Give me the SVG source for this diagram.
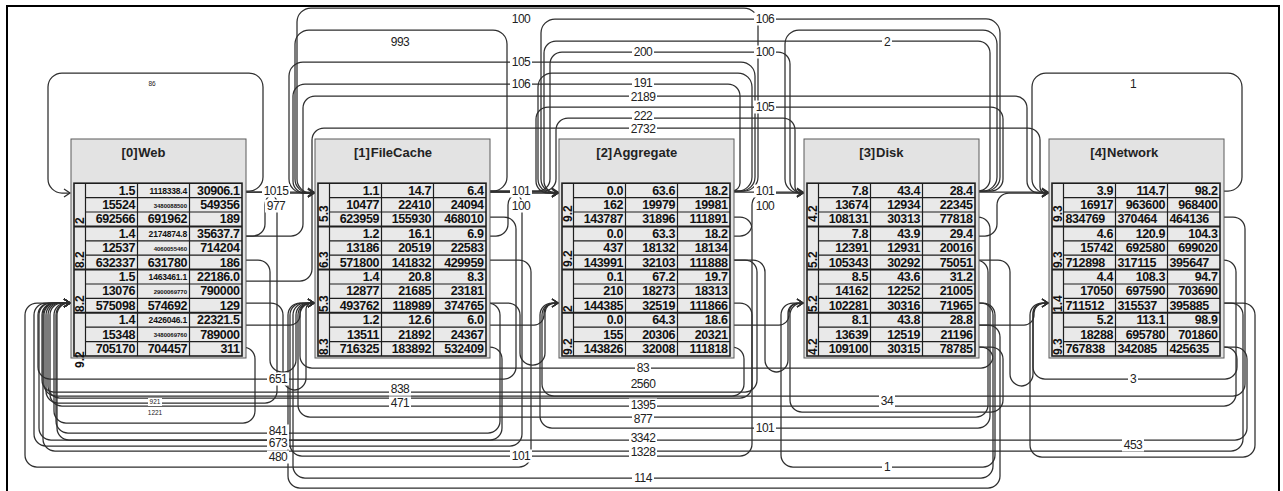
<svg xmlns="http://www.w3.org/2000/svg" xmlns:xlink="http://www.w3.org/1999/xlink" width="1283" height="491" viewBox="0 0 1283 491">
<style>
.e{fill:none;stroke:#2e2e2e;stroke-width:1.25;marker-end:url(#ah)}
.box{fill:#e3e3e3;stroke:#5a5a5a;stroke-width:1}
.tb{fill:#e9e9e9;stroke:#1e1e1e;stroke-width:1.6}
.ln{fill:none;stroke:#1e1e1e;stroke-width:1.2}
.gb{fill:none;stroke:#1e1e1e;stroke-width:2}
text{font-family:"Liberation Sans",Arial,sans-serif}
.ti{font-size:13px;font-weight:bold;fill:#222}
.tr{font-size:13px;font-weight:bold;fill:#222;text-anchor:end}
.v{font-size:12.5px;font-weight:bold;fill:#111;text-anchor:end;letter-spacing:-0.4px}
.vl{font-size:12.5px;font-weight:bold;fill:#111;text-anchor:start;letter-spacing:-0.4px}
.s1{font-size:8.5px;letter-spacing:-0.2px}
.s2{font-size:6px;letter-spacing:0px}
.gl{font-size:12px;font-weight:bold;fill:#111}
.lb{font-size:12px;fill:#222;text-anchor:middle;letter-spacing:-0.5px}
.ls{font-size:6.5px;fill:#222;text-anchor:middle}
.bg{fill:#fff}
</style>
<defs>
<marker id="ah" markerWidth="9" markerHeight="10" refX="7" refY="5" orient="auto" markerUnits="userSpaceOnUse">
<path d="M1,1 L7,5 L1,9" fill="none" stroke="#2e2e2e" stroke-width="1.3"/>
</marker>
<g id="nb">
<rect class="box" x="0" y="139" width="175" height="219"/>
<rect class="tb" x="3" y="183.2" width="168" height="172.8"/>
<path class="ln" d="M14.5 183.2V356M66.5 183.2V356M118.5 183.2V356M14.5 197.6H171M14.5 212H171M14.5 240.8H171M14.5 255.2H171M14.5 284H171M14.5 298.4H171M14.5 327.2H171M14.5 341.6H171"/>
<path class="gb" d="M3 226.4H171M3 269.6H171M3 312.8H171"/>
</g>
</defs>
<rect x="7" y="6" width="1272" height="500" fill="#fff" stroke="#000" stroke-width="2"/>
<g id="connectors">
<path class="e" d="M243 191 H249 a14 14 0 0 0 14 -14 V87 a14 14 0 0 0 -14 -14 H62 a14 14 0 0 0 -14 14 V179 a14 14 0 0 0 14 14 H70"/>
<path class="e" d="M487 191 H493 a14 14 0 0 0 14 -14 V44 a14 14 0 0 0 -14 -14 H309 a14 14 0 0 0 -14 14 V179 a14 14 0 0 0 14 14 H314"/>
<path class="e" d="M731 191 H738 a14 14 0 0 0 14 -14 V87 a14 14 0 0 0 -14 -14 H552 a14 14 0 0 0 -14 14 V179 a14 14 0 0 0 14 14 H558"/>
<path class="e" d="M976 191 H983 a14 14 0 0 0 14 -14 V44 a14 14 0 0 0 -14 -14 H799 a14 14 0 0 0 -14 14 V179 a14 14 0 0 0 14 14 H803"/>
<path class="e" d="M1221 191 H1228 a14 14 0 0 0 14 -14 V87 a14 14 0 0 0 -14 -14 H1046 a14 14 0 0 0 -14 14 V179 a14 14 0 0 0 14 14 H1048"/>
<path class="e" d="M731 191 H744 a14 14 0 0 0 14 -14 V22 a14 14 0 0 0 -14 -14 H311 a14 14 0 0 0 -14 14 V179 a14 14 0 0 0 14 14 H314"/>
<path class="e" d="M976 191 H986 a14 14 0 0 0 14 -14 V33 a14 14 0 0 0 -14 -14 H555 a14 14 0 0 0 -14 14 V179 a14 14 0 0 0 14 14 H558"/>
<path class="e" d="M976 191 H978 a12 12 0 0 0 12 -12 V53 a12 12 0 0 0 -12 -12 H556 a12 12 0 0 0 -12 12 V181 a12 12 0 0 0 12 12 H558"/>
<path class="e" d="M487 191 H538 a12 12 0 0 0 12 -12 V64 a12 12 0 0 1 12 -12 H778 a12 12 0 0 1 12 12 V181 a12 12 0 0 0 12 12 H803"/>
<path class="e" d="M731 191 H741 a14 14 0 0 0 14 -14 V76 a14 14 0 0 0 -14 -14 H303 a14 14 0 0 0 -14 14 V179 a14 14 0 0 0 14 14 H314"/>
<path class="e" d="M731 191 H732 a8 8 0 0 0 8 -8 V96 a12 12 0 0 0 -12 -12 H305 a12 12 0 0 0 -12 12 V181 a12 12 0 0 0 12 12 H314"/>
<path class="e" d="M243 236 H291 a12 12 0 0 0 12 -12 V108 a12 12 0 0 1 12 -12 H1015 a12 12 0 0 1 12 12 V181 a12 12 0 0 0 12 12 H1048"/>
<path class="e" d="M976 191 H991 a12 12 0 0 0 12 -12 V119 a12 12 0 0 0 -12 -12 H548 a12 12 0 0 0 -12 12 V181 a12 12 0 0 0 12 12 H558"/>
<path class="e" d="M487 191 H544 a12 12 0 0 0 12 -12 V130 a12 12 0 0 1 12 -12 H783 a12 12 0 0 1 12 12 V187 a6 6 0 0 0 6 6 H803"/>
<path class="e" d="M243 281 H300 a12 12 0 0 0 12 -12 V140 a12 12 0 0 1 12 -12 H1028 a12 12 0 0 1 12 12 V187 a6 6 0 0 0 6 6 H1048"/>
<path class="e" d="M243 192 H314"/>
<path class="e" d="M487 192 H558"/>
<path class="e" d="M731 192 H803"/>
<path class="e" d="M976 192 H1048"/>
<path class="e" d="M243 236 H253 a12 12 0 0 0 12 -12 V205 a12 12 0 0 1 12 -12 H314"/>
<path class="e" d="M487 236 H496 a12 12 0 0 0 12 -12 V205 a12 12 0 0 1 12 -12 H558"/>
<path class="e" d="M731 236 H740 a12 12 0 0 0 12 -12 V205 a12 12 0 0 1 12 -12 H803"/>
<path class="e" d="M976 236 H985 a12 12 0 0 0 12 -12 V205 a12 12 0 0 1 12 -12 H1048"/>
<path class="e" d="M243 325 H290 a10 10 0 0 0 10 -10 V313 a10 10 0 0 1 10 -10 H314"/>
<path class="e" d="M487 325 H534 a10 10 0 0 0 10 -10 V313 a10 10 0 0 1 10 -10 H558"/>
<path class="e" d="M731 325 H779 a10 10 0 0 0 10 -10 V313 a10 10 0 0 1 10 -10 H803"/>
<path class="e" d="M976 325 H1024 a10 10 0 0 0 10 -10 V313 a10 10 0 0 1 10 -10 H1048"/>
<path class="e" d="M243 260 H258 a12 12 0 0 1 12 12 V360 a12 12 0 0 0 12 12 H284 a12 12 0 0 0 12 -12 V315 a12 12 0 0 1 12 -12 H314"/>
<path class="e" d="M243 303 H271 a12 12 0 0 1 12 12 V378 a12 12 0 0 0 12 12 H294 a12 12 0 0 0 12 -12 V309 a6 6 0 0 1 6 -6 H314"/>
<path class="e" d="M487 303 H508 a12 12 0 0 1 12 12 V353 a12 12 0 0 0 12 12 H533 a12 12 0 0 0 12 -12 V313 a10 10 0 0 1 10 -10 H558"/>
<path class="e" d="M731 260 H753 a12 12 0 0 1 12 12 V360 a12 12 0 0 0 12 12 H776 a12 12 0 0 0 12 -12 V313 a10 10 0 0 1 10 -10 H803"/>
<path class="e" d="M976 260 H998 a12 12 0 0 1 12 12 V374 a12 12 0 0 0 12 12 H1021 a12 12 0 0 0 12 -12 V313 a10 10 0 0 1 10 -10 H1048"/>
<path class="e" d="M487 217 H504 a12 12 0 0 1 12 12 V367 a12 12 0 0 1 -12 12 H50 a12 12 0 0 1 -12 -12 V315 a12 12 0 0 1 12 -12 H70"/>
<path class="e" d="M731 260 H745 a12 12 0 0 1 12 12 V380 a12 12 0 0 1 -12 12 H54 a12 12 0 0 1 -12 -12 V315 a12 12 0 0 1 12 -12 H70"/>
<path class="e" d="M243 192 H265 a12 12 0 0 1 12 12 V391 a12 12 0 0 1 -12 12 H58 a12 12 0 0 1 -12 -12 V315 a12 12 0 0 1 12 -12 H70"/>
<path class="e" d="M731 217 H740 a12 12 0 0 1 12 12 V386 a12 12 0 0 1 -12 12 H60 a12 12 0 0 1 -12 -12 V315 a12 12 0 0 1 12 -12 H70"/>
<path class="e" d="M1221 260 H1224 a12 12 0 0 1 12 12 V394 a12 12 0 0 1 -12 12 H62 a12 12 0 0 1 -12 -12 V315 a12 12 0 0 1 12 -12 H70"/>
<path class="e" d="M243 347 a12 12 0 0 1 12 12 V411 a12 12 0 0 1 -12 12 H66 a12 12 0 0 1 -12 -12 V315 a12 12 0 0 1 12 -12 H70"/>
<path class="e" d="M487 303 H488 a12 12 0 0 1 12 12 V421 a12 12 0 0 1 -12 12 H68 a12 12 0 0 1 -12 -12 V315 a12 12 0 0 1 12 -12 H70"/>
<path class="e" d="M487 347 H490 a12 12 0 0 1 12 12 V428 a12 12 0 0 1 -12 12 H69 a12 12 0 0 1 -12 -12 V315 a12 12 0 0 1 12 -12 H70"/>
<path class="e" d="M1221 347 H1235 a12 12 0 0 1 12 12 V428 a12 12 0 0 1 -12 12 H51 a12 12 0 0 1 -12 -12 V315 a12 12 0 0 1 12 -12 H70"/>
<path class="e" d="M487 192 H510 a12 12 0 0 1 12 12 V434 a12 12 0 0 1 -12 12 H46 a12 12 0 0 1 -12 -12 V315 a12 12 0 0 1 12 -12 H70"/>
<path class="e" d="M1221 303 H1231 a12 12 0 0 1 12 12 V439 a12 12 0 0 1 -12 12 H55 a12 12 0 0 1 -12 -12 V315 a12 12 0 0 1 12 -12 H70"/>
<path class="e" d="M487 260 H519 a12 12 0 0 1 12 12 V455 a12 12 0 0 1 -12 12 H37 a12 12 0 0 1 -12 -12 V315 a12 12 0 0 1 12 -12 H70"/>
<path class="e" d="M1221 217 H1233 a12 12 0 0 1 12 12 V384 a12 12 0 0 1 -12 12 H56 a12 12 0 0 1 -12 -12 V315 a12 12 0 0 1 12 -12 H70"/>
<path class="e" d="M976 303 H981 a12 12 0 0 1 12 12 V356 a12 12 0 0 1 -12 12 H312 a12 12 0 0 1 -12 -12 V315 a12 12 0 0 1 12 -12 H314"/>
<path class="e" d="M731 303 H740 a12 12 0 0 1 12 12 V444 a12 12 0 0 1 -12 12 H302 a12 12 0 0 1 -12 -12 V315 a12 12 0 0 1 12 -12 H314"/>
<path class="e" d="M976 260 a12 12 0 0 1 12 12 V405 a12 12 0 0 1 -12 12 H310 a12 12 0 0 1 -12 -12 V315 a12 12 0 0 1 12 -12 H314"/>
<path class="e" d="M976 347 H981 a12 12 0 0 1 12 12 V466 a12 12 0 0 1 -12 12 H305 a12 12 0 0 1 -12 -12 V315 a12 12 0 0 1 12 -12 H314"/>
<path class="e" d="M976 325 H988 a12 12 0 0 1 12 12 V476 a12 12 0 0 1 -12 12 H300 a12 12 0 0 1 -12 -12 V315 a12 12 0 0 1 12 -12 H314"/>
<path class="e" d="M731 347 H732 a12 12 0 0 1 12 12 V384 a12 12 0 0 1 -12 12 H554 a12 12 0 0 1 -12 -12 V315 a12 12 0 0 1 12 -12 H558"/>
<path class="e" d="M976 217 H978 a12 12 0 0 1 12 12 V416 a12 12 0 0 1 -12 12 H552 a12 12 0 0 1 -12 -12 V315 a12 12 0 0 1 12 -12 H558"/>
<path class="e" d="M976 347 H991 a12 12 0 0 1 12 12 V400 a12 12 0 0 1 -12 12 H802 a12 12 0 0 1 -12 -12 V315 a12 12 0 0 1 12 -12 H803"/>
<path class="e" d="M976 303 H983 a12 12 0 0 1 12 12 V455 a12 12 0 0 1 -12 12 H793 a12 12 0 0 1 -12 -12 V315 a12 12 0 0 1 12 -12 H803"/>
<path class="e" d="M1221 347 H1225 a12 12 0 0 1 12 12 V367 a12 12 0 0 1 -12 12 H1045 a12 12 0 0 1 -12 -12 V315 a12 12 0 0 1 12 -12 H1048"/>
<path class="e" d="M1221 303 H1243 a12 12 0 0 1 12 12 V445 a12 12 0 0 1 -12 12 H1042 a12 12 0 0 1 -12 -12 V315 a12 12 0 0 1 12 -12 H1048"/>
</g>
<g id="edge-labels">
<text class="ls" x="152" y="86.3">86</text>
<rect class="bg" x="510" y="12.5" width="22" height="13"/><text class="lb" x="521" y="23.3">100</text>
<rect class="bg" x="389" y="35.5" width="22" height="13"/><text class="lb" x="400" y="46.3">993</text>
<rect class="bg" x="510" y="55.5" width="22" height="13"/><text class="lb" x="521" y="66.3">105</text>
<rect class="bg" x="510" y="77.5" width="22" height="13"/><text class="lb" x="521" y="88.3">106</text>
<rect class="bg" x="754" y="12.5" width="22" height="13"/><text class="lb" x="765" y="23.3">106</text>
<rect class="bg" x="632" y="45.5" width="22" height="13"/><text class="lb" x="643" y="56.3">200</text>
<rect class="bg" x="754" y="45.5" width="22" height="13"/><text class="lb" x="765" y="56.3">100</text>
<rect class="bg" x="629" y="90.5" width="28" height="13"/><text class="lb" x="643" y="101.3">2189</text>
<rect class="bg" x="632" y="76" width="22" height="13"/><text class="lb" x="643" y="86.8">191</text>
<rect class="bg" x="754" y="100.5" width="22" height="13"/><text class="lb" x="765" y="111.3">105</text>
<rect class="bg" x="632" y="109.5" width="22" height="13"/><text class="lb" x="643" y="120.3">222</text>
<rect class="bg" x="629" y="122.5" width="28" height="13"/><text class="lb" x="643" y="133.3">2732</text>
<rect class="bg" x="882" y="35.5" width="10" height="13"/><text class="lb" x="887" y="46.3">2</text>
<rect class="bg" x="1128" y="77.5" width="10" height="13"/><text class="lb" x="1133" y="88.3">1</text>
<rect class="bg" x="265" y="199.5" width="22" height="13"/><text class="lb" x="276" y="210.3">977</text>
<rect class="bg" x="262" y="184.5" width="28" height="13"/><text class="lb" x="276" y="195.3">1015</text>
<rect class="bg" x="510" y="199.5" width="22" height="13"/><text class="lb" x="521" y="210.3">100</text>
<rect class="bg" x="510" y="184.5" width="22" height="13"/><text class="lb" x="521" y="195.3">101</text>
<rect class="bg" x="754" y="199.5" width="22" height="13"/><text class="lb" x="765" y="210.3">100</text>
<rect class="bg" x="754" y="184.5" width="22" height="13"/><text class="lb" x="765" y="195.3">101</text>
<rect class="bg" x="267" y="372.5" width="22" height="13"/><text class="lb" x="278" y="383.3">651</text>
<rect class="bg" x="148" y="398" width="14" height="8"/><text class="ls" x="155" y="404.3">921</text>
<text class="ls" x="155" y="415.3">1221</text>
<rect class="bg" x="267" y="436.5" width="22" height="13"/><text class="lb" x="278" y="447.3">673</text>
<rect class="bg" x="267" y="424.5" width="22" height="13"/><text class="lb" x="278" y="435.3">841</text>
<rect class="bg" x="267" y="450.5" width="22" height="13"/><text class="lb" x="278" y="461.3">480</text>
<rect class="bg" x="389" y="396.5" width="22" height="13"/><text class="lb" x="400" y="407.3">471</text>
<rect class="bg" x="389" y="382.5" width="22" height="13"/><text class="lb" x="400" y="393.3">838</text>
<rect class="bg" x="510" y="449.5" width="22" height="13"/><text class="lb" x="521" y="460.3">101</text>
<rect class="bg" x="635" y="361.5" width="16" height="13"/><text class="lb" x="643" y="372.3">83</text>
<rect class="bg" x="629" y="377.5" width="28" height="13"/><text class="lb" x="643" y="388.3">2560</text>
<rect class="bg" x="629" y="398.5" width="28" height="13"/><text class="lb" x="643" y="409.3">1395</text>
<rect class="bg" x="632" y="412.5" width="22" height="13"/><text class="lb" x="643" y="423.3">877</text>
<rect class="bg" x="754" y="421.5" width="22" height="13"/><text class="lb" x="765" y="432.3">101</text>
<rect class="bg" x="629" y="431.5" width="28" height="13"/><text class="lb" x="643" y="442.3">3342</text>
<rect class="bg" x="629" y="445.5" width="28" height="13"/><text class="lb" x="643" y="456.3">1328</text>
<rect class="bg" x="632" y="471.5" width="22" height="13"/><text class="lb" x="643" y="482.3">114</text>
<rect class="bg" x="879" y="394.5" width="16" height="13"/><text class="lb" x="887" y="405.3">34</text>
<rect class="bg" x="882" y="460.5" width="10" height="13"/><text class="lb" x="887" y="471.3">1</text>
<rect class="bg" x="1128" y="372.5" width="10" height="13"/><text class="lb" x="1133" y="383.3">3</text>
<rect class="bg" x="1122" y="438.5" width="22" height="13"/><text class="lb" x="1133" y="449.3">453</text>
</g>
<g id="node-web" transform="translate(71 0)">
<use xlink:href="#nb" href="#nb"/>
<text class="tr" x="66.5" y="157">[0]</text><text class="ti" x="67.3" y="157">Web</text>
<text class="v"><tspan x="64" y="194.6">1.5</tspan><tspan x="64" y="209">15524</tspan><tspan x="64" y="223.4">692566</tspan><tspan x="64" y="237.8">1.4</tspan><tspan x="64" y="252.2">12537</tspan><tspan x="64" y="266.6">632337</tspan><tspan x="64" y="281">1.5</tspan><tspan x="64" y="295.4">13076</tspan><tspan x="64" y="309.8">575098</tspan><tspan x="64" y="324.2">1.4</tspan><tspan x="64" y="338.6">15348</tspan><tspan x="64" y="353">705170</tspan></text>
<text class="v"><tspan class="s1" x="116" y="193.6">1118338.4</tspan><tspan class="s2" x="116" y="207.6">3480088500</tspan><tspan x="116" y="223.4">691962</tspan><tspan class="s1" x="116" y="236.8">2174874.8</tspan><tspan class="s2" x="116" y="250.8">4060055460</tspan><tspan x="116" y="266.6">631780</tspan><tspan class="s1" x="116" y="280">1463461.1</tspan><tspan class="s2" x="116" y="294">2900069770</tspan><tspan x="116" y="309.8">574692</tspan><tspan class="s1" x="116" y="323.2">2426046.1</tspan><tspan class="s2" x="116" y="337.2">3480069760</tspan><tspan x="116" y="353">704457</tspan></text>
<text class="v"><tspan x="168.5" y="194.6">30906.1</tspan><tspan x="168.5" y="209">549356</tspan><tspan x="168.5" y="223.4">189</tspan><tspan x="168.5" y="237.8">35637.7</tspan><tspan x="168.5" y="252.2">714204</tspan><tspan x="168.5" y="266.6">186</tspan><tspan x="168.5" y="281">22186.0</tspan><tspan x="168.5" y="295.4">790000</tspan><tspan x="168.5" y="309.8">129</tspan><tspan x="168.5" y="324.2">22321.5</tspan><tspan x="168.5" y="338.6">789000</tspan><tspan x="168.5" y="353">311</tspan></text>
<text class="gl" transform="translate(13 224) rotate(-90)">2</text>
<text class="gl" transform="translate(13 268) rotate(-90)">8.2</text>
<text class="gl" transform="translate(13 312) rotate(-90)">8.2</text>
<text class="gl" transform="translate(13 368) rotate(-90)">9.2</text>
</g>
<g id="node-filecache" transform="translate(315 0)">
<use xlink:href="#nb" href="#nb"/>
<text class="tr" x="54.9" y="157">[1]</text><text class="ti" x="55.7" y="157">FileCache</text>
<text class="v"><tspan x="64" y="194.6">1.1</tspan><tspan x="64" y="209">10477</tspan><tspan x="64" y="223.4">623959</tspan><tspan x="64" y="237.8">1.2</tspan><tspan x="64" y="252.2">13186</tspan><tspan x="64" y="266.6">571800</tspan><tspan x="64" y="281">1.4</tspan><tspan x="64" y="295.4">12877</tspan><tspan x="64" y="309.8">493762</tspan><tspan x="64" y="324.2">1.2</tspan><tspan x="64" y="338.6">13511</tspan><tspan x="64" y="353">716325</tspan></text>
<text class="v"><tspan x="116" y="194.6">14.7</tspan><tspan x="116" y="209">22410</tspan><tspan x="116" y="223.4">155930</tspan><tspan x="116" y="237.8">16.1</tspan><tspan x="116" y="252.2">20519</tspan><tspan x="116" y="266.6">141832</tspan><tspan x="116" y="281">20.8</tspan><tspan x="116" y="295.4">21685</tspan><tspan x="116" y="309.8">118989</tspan><tspan x="116" y="324.2">12.6</tspan><tspan x="116" y="338.6">21892</tspan><tspan x="116" y="353">183892</tspan></text>
<text class="v"><tspan x="168.5" y="194.6">6.4</tspan><tspan x="168.5" y="209">24094</tspan><tspan x="168.5" y="223.4">468010</tspan><tspan x="168.5" y="237.8">6.9</tspan><tspan x="168.5" y="252.2">22583</tspan><tspan x="168.5" y="266.6">429959</tspan><tspan x="168.5" y="281">8.3</tspan><tspan x="168.5" y="295.4">23181</tspan><tspan x="168.5" y="309.8">374765</tspan><tspan x="168.5" y="324.2">6.0</tspan><tspan x="168.5" y="338.6">24367</tspan><tspan x="168.5" y="353">532409</tspan></text>
<text class="gl" transform="translate(13 222) rotate(-90)">5.3</text>
<text class="gl" transform="translate(13 268) rotate(-90)">6.3</text>
<text class="gl" transform="translate(13 312) rotate(-90)">5.3</text>
<text class="gl" transform="translate(13 355) rotate(-90)">8.3</text>
</g>
<g id="node-aggregate" transform="translate(559 0)">
<use xlink:href="#nb" href="#nb"/>
<text class="tr" x="53.2" y="157">[2]</text><text class="ti" x="54" y="157">Aggregate</text>
<text class="v"><tspan x="64" y="194.6">0.0</tspan><tspan x="64" y="209">162</tspan><tspan x="64" y="223.4">143787</tspan><tspan x="64" y="237.8">0.0</tspan><tspan x="64" y="252.2">437</tspan><tspan x="64" y="266.6">143991</tspan><tspan x="64" y="281">0.1</tspan><tspan x="64" y="295.4">210</tspan><tspan x="64" y="309.8">144385</tspan><tspan x="64" y="324.2">0.0</tspan><tspan x="64" y="338.6">155</tspan><tspan x="64" y="353">143826</tspan></text>
<text class="v"><tspan x="116" y="194.6">63.6</tspan><tspan x="116" y="209">19979</tspan><tspan x="116" y="223.4">31896</tspan><tspan x="116" y="237.8">63.3</tspan><tspan x="116" y="252.2">18132</tspan><tspan x="116" y="266.6">32103</tspan><tspan x="116" y="281">67.2</tspan><tspan x="116" y="295.4">18273</tspan><tspan x="116" y="309.8">32519</tspan><tspan x="116" y="324.2">64.3</tspan><tspan x="116" y="338.6">20306</tspan><tspan x="116" y="353">32008</tspan></text>
<text class="v"><tspan x="168.5" y="194.6">18.2</tspan><tspan x="168.5" y="209">19981</tspan><tspan x="168.5" y="223.4">111891</tspan><tspan x="168.5" y="237.8">18.2</tspan><tspan x="168.5" y="252.2">18134</tspan><tspan x="168.5" y="266.6">111888</tspan><tspan x="168.5" y="281">19.7</tspan><tspan x="168.5" y="295.4">18313</tspan><tspan x="168.5" y="309.8">111866</tspan><tspan x="168.5" y="324.2">18.6</tspan><tspan x="168.5" y="338.6">20321</tspan><tspan x="168.5" y="353">111818</tspan></text>
<text class="gl" transform="translate(13 222) rotate(-90)">9.2</text>
<text class="gl" transform="translate(13 267) rotate(-90)">9.2</text>
<text class="gl" transform="translate(13 312) rotate(-90)">2</text>
<text class="gl" transform="translate(13 355) rotate(-90)">9.2</text>
</g>
<g id="node-disk" transform="translate(804 0)">
<use xlink:href="#nb" href="#nb"/>
<text class="tr" x="71.2" y="157">[3]</text><text class="ti" x="72" y="157">Disk</text>
<text class="v"><tspan x="64" y="194.6">7.8</tspan><tspan x="64" y="209">13674</tspan><tspan x="64" y="223.4">108131</tspan><tspan x="64" y="237.8">7.8</tspan><tspan x="64" y="252.2">12391</tspan><tspan x="64" y="266.6">105343</tspan><tspan x="64" y="281">8.5</tspan><tspan x="64" y="295.4">14162</tspan><tspan x="64" y="309.8">102281</tspan><tspan x="64" y="324.2">8.1</tspan><tspan x="64" y="338.6">13639</tspan><tspan x="64" y="353">109100</tspan></text>
<text class="v"><tspan x="116" y="194.6">43.4</tspan><tspan x="116" y="209">12934</tspan><tspan x="116" y="223.4">30313</tspan><tspan x="116" y="237.8">43.9</tspan><tspan x="116" y="252.2">12931</tspan><tspan x="116" y="266.6">30292</tspan><tspan x="116" y="281">43.6</tspan><tspan x="116" y="295.4">12252</tspan><tspan x="116" y="309.8">30316</tspan><tspan x="116" y="324.2">43.8</tspan><tspan x="116" y="338.6">12519</tspan><tspan x="116" y="353">30315</tspan></text>
<text class="v"><tspan x="168.5" y="194.6">28.4</tspan><tspan x="168.5" y="209">22345</tspan><tspan x="168.5" y="223.4">77818</tspan><tspan x="168.5" y="237.8">29.4</tspan><tspan x="168.5" y="252.2">20016</tspan><tspan x="168.5" y="266.6">75051</tspan><tspan x="168.5" y="281">31.2</tspan><tspan x="168.5" y="295.4">21005</tspan><tspan x="168.5" y="309.8">71965</tspan><tspan x="168.5" y="324.2">28.8</tspan><tspan x="168.5" y="338.6">21196</tspan><tspan x="168.5" y="353">78785</tspan></text>
<text class="gl" transform="translate(13 222) rotate(-90)">4.2</text>
<text class="gl" transform="translate(13 268) rotate(-90)">5.2</text>
<text class="gl" transform="translate(13 312) rotate(-90)">5.2</text>
<text class="gl" transform="translate(13 355) rotate(-90)">4.2</text>
</g>
<g id="node-network" transform="translate(1049 0)">
<use xlink:href="#nb" href="#nb"/>
<text class="tr" x="57.2" y="157">[4]</text><text class="ti" x="58" y="157">Network</text>
<text class="v"><tspan x="64" y="194.6">3.9</tspan><tspan x="64" y="209">16917</tspan><tspan x="64" y="237.8">4.6</tspan><tspan x="64" y="252.2">15742</tspan><tspan x="64" y="281">4.4</tspan><tspan x="64" y="295.4">17050</tspan><tspan x="64" y="324.2">5.2</tspan><tspan x="64" y="338.6">18288</tspan></text>
<text class="v"><tspan x="116" y="194.6">114.7</tspan><tspan x="116" y="209">963600</tspan><tspan x="116" y="237.8">120.9</tspan><tspan x="116" y="252.2">692580</tspan><tspan x="116" y="281">108.3</tspan><tspan x="116" y="295.4">697590</tspan><tspan x="116" y="324.2">113.1</tspan><tspan x="116" y="338.6">695780</tspan></text>
<text class="v"><tspan x="168.5" y="194.6">98.2</tspan><tspan x="168.5" y="209">968400</tspan><tspan x="168.5" y="237.8">104.3</tspan><tspan x="168.5" y="252.2">699020</tspan><tspan x="168.5" y="281">94.7</tspan><tspan x="168.5" y="295.4">703690</tspan><tspan x="168.5" y="324.2">98.9</tspan><tspan x="168.5" y="338.6">701860</tspan></text>
<text class="vl"><tspan x="16.5" y="223.4">834769</tspan><tspan x="16.5" y="266.6">712898</tspan><tspan x="16.5" y="309.8">711512</tspan><tspan x="16.5" y="353">767838</tspan></text>
<text class="vl"><tspan x="68.5" y="223.4">370464</tspan><tspan x="68.5" y="266.6">317115</tspan><tspan x="68.5" y="309.8">315537</tspan><tspan x="68.5" y="353">342085</tspan></text>
<text class="vl"><tspan x="120.5" y="223.4">464136</tspan><tspan x="120.5" y="266.6">395647</tspan><tspan x="120.5" y="309.8">395885</tspan><tspan x="120.5" y="353">425635</tspan></text>
<text class="gl" transform="translate(13 222) rotate(-90)">9.3</text>
<text class="gl" transform="translate(13 268) rotate(-90)">9.3</text>
<text class="gl" transform="translate(13 312) rotate(-90)">1.4</text>
<text class="gl" transform="translate(13 355) rotate(-90)">9.3</text>
</g>
</svg>
